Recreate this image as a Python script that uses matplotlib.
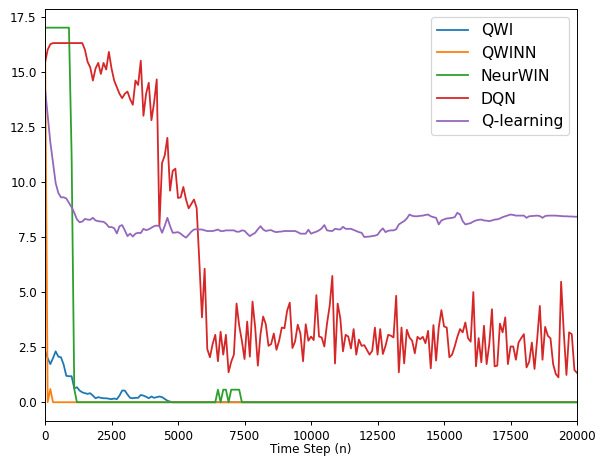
import numpy as np
import matplotlib
matplotlib.use("Agg")
import matplotlib.pyplot as plt

# 时间步 (每 100 步一个点)
steps = list(range(0, 20001, 100))

# QWI
qwi = [2.34, 2.0, 1.73, 2.0, 2.31, 2.07, 2.04, 1.71, 1.2, 1.18,
       1.18, 0.63, 0.68, 0.53, 0.45, 0.41, 0.38, 0.41, 0.3, 0.18,
       0.23, 0.2, 0.18, 0.18, 0.16, 0.14, 0.17, 0.14, 0.3, 0.53,
       0.53, 0.35, 0.2, 0.18, 0.2, 0.2, 0.33, 0.3, 0.25, 0.18,
       0.26, 0.2, 0.23, 0.26, 0.23, 0.15, 0.07, 0.03] + [0.0] * 153

# QWINN
qwinn = [17.0, 0.0, 0.6, 0.0] + [0.0] * 197

# NeurWIN
neurwin = ([17.0] * 10 + [11.2, 0.6] + [0.0] * 53
           + [0.57, 0.0, 0.57, 0.57, 0.0, 0.57, 0.57, 0.57, 0.57] + [0.0] * 127)

# DQN
dqn = [15.4, 16.0, 16.25, 16.3, 16.3, 16.3, 16.3, 16.3, 16.3, 16.3,
       16.3, 16.3, 16.3, 16.3, 16.3,
       16.0, 15.45, 15.2, 14.6, 15.15, 15.4, 14.9, 15.4, 15.1, 15.9,
       15.15, 14.6, 14.3, 14.0, 13.8, 14.0, 14.1, 13.75, 13.5, 14.6,
       14.4, 15.5, 13.0, 14.0, 14.5, 12.8, 13.6, 14.65, 8.0, 10.86,
       11.2, 12.0, 9.6, 10.5, 10.6, 9.27, 9.3, 9.77, 9.2, 8.8,
       9.0, 9.2, 8.82, 6.4, 3.85,
       6.06, 2.41, 2.04, 2.64, 3.06, 1.86, 3.2, 2.16, 3.06, 1.36,
       1.84, 2.16, 4.48, 3.47, 2.79, 1.96, 3.66, 2.07, 4.57, 3.39,
       1.66, 3.09, 3.89, 3.54, 2.56, 2.64, 3.12, 2.38, 2.79, 3.39,
       3.36, 4.15, 4.52, 2.46, 2.76, 3.52,
       3.12, 1.86, 3.54, 2.79, 2.98, 2.82, 4.86, 2.98, 2.94, 2.53,
       3.57, 4.37, 5.73, 1.76, 4.48, 3.81, 2.31, 3.06, 2.98, 2.44,
       3.32, 2.16, 2.84, 2.56, 2.59, 2.37, 2.16, 2.34, 3.39, 2.16,
       3.32, 2.19, 2.56, 3.06, 3.02, 2.94, 4.83, 1.36, 3.39, 1.76,
       3.29, 2.94, 2.79, 2.22, 2.97, 2.86, 2.97, 2.68, 3.24, 1.54,
       3.5, 1.89, 3.39, 4.18, 3.44, 3.39, 2.04, 2.16, 2.53, 2.97,
       3.32, 3.17, 3.62, 2.91, 2.75, 5.0, 1.63, 2.91, 1.81, 3.47,
       1.73, 2.64, 4.22, 1.63, 1.66, 3.57, 3.17, 3.85, 1.73, 2.53,
       2.53, 1.93, 2.71, 2.91, 3.09, 1.58, 1.84, 2.71, 1.51, 2.86,
       4.37, 1.93, 3.42, 3.02, 2.9, 1.73, 1.28, 1.13, 5.47, 3.17,
       1.24, 3.17, 3.09, 1.46, 1.33]

# Q-learning
qlearning = [14.25, 13.0, 11.8, 10.86, 9.95, 9.5, 9.3, 9.3, 9.25, 9.05,
             8.85, 8.6, 8.3, 8.17, 8.2, 8.32, 8.29, 8.28, 8.37, 8.25,
             8.22, 8.2, 8.19, 8.1, 7.95, 7.95, 7.9, 7.66, 7.99, 8.04,
             7.8, 7.54, 7.65, 7.52, 7.65, 7.69, 7.68, 7.87, 7.81, 7.85,
             7.92, 7.99, 8.02, 7.99, 7.69, 8.0, 8.37, 8.0, 7.69, 7.7,
             7.72, 7.65, 7.55, 7.47, 7.6, 7.74, 7.84, 7.85, 7.84, 7.84,
             7.8, 7.77, 7.77, 7.77, 7.8, 7.84, 7.77, 7.77, 7.8, 7.8,
             7.8, 7.8, 7.74, 7.74, 7.8, 7.78, 7.65, 7.54, 7.62, 7.69,
             7.85, 7.99, 7.84, 7.77, 7.8, 7.81, 7.75, 7.72, 7.74, 7.75,
             7.77, 7.77, 7.77, 7.77, 7.77, 7.72, 7.65, 7.65, 7.65, 7.83,
             7.65, 7.7, 7.74, 7.8, 7.89, 8.04, 7.8, 7.78, 7.77, 7.87,
             7.85, 7.84, 7.96, 7.87, 7.87, 7.87, 7.82, 7.77, 7.72, 7.69,
             7.5, 7.51, 7.52, 7.54, 7.56, 7.6, 7.77, 7.89, 7.72, 7.78,
             7.8, 7.8, 7.85, 8.07, 8.15, 8.22, 8.34, 8.52, 8.46, 8.44,
             8.44, 8.46, 8.47, 8.5, 8.52, 8.44, 8.4, 8.37, 8.07, 8.25,
             8.3, 8.34, 8.35, 8.37, 8.4, 8.6, 8.52, 8.22, 8.07, 8.1,
             8.13, 8.2, 8.25, 8.28, 8.29, 8.25, 8.24, 8.22, 8.25, 8.29,
             8.3, 8.34, 8.4, 8.44, 8.48, 8.52, 8.5, 8.47, 8.47, 8.47,
             8.47, 8.37, 8.44, 8.45, 8.46, 8.47, 8.45, 8.37, 8.45, 8.47,
             8.47, 8.47, 8.47, 8.46, 8.45, 8.44, 8.44, 8.43, 8.43, 8.42,
             8.42]

labels = ["QWI", "QWINN", "NeurWIN", "DQN", "Q-learning"]
series = [qwi, qwinn, neurwin, dqn, qlearning]

fig = plt.figure(figsize=(6.9, 5.28), dpi=86.4)
ax = fig.add_axes([0.0755, 0.0768, 0.8925, 0.9032])

for lab, ys in zip(labels, series):
    ax.plot(steps, ys, label=lab)

ax.set_xlim(0, 20000)
ax.set_xlabel("Time Step (n)", labelpad=0)
ax.legend(loc="upper right", fontsize=13)

fig.savefig("out.png", dpi=86.4)
